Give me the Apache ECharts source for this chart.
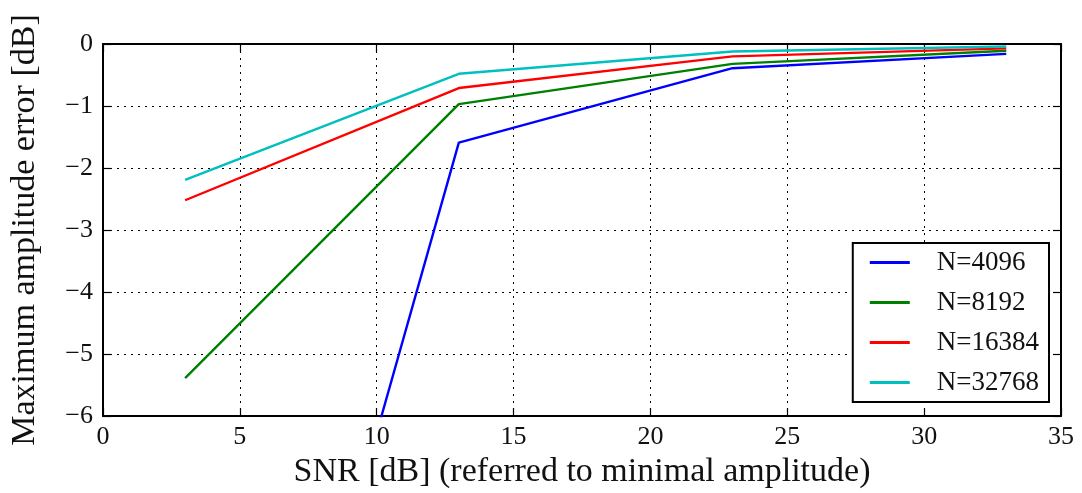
<!DOCTYPE html>
<html>
<head>
<meta charset="utf-8">
<script src="https://cdn.jsdelivr.net/npm/echarts@6/dist/echarts.min.js"></script>
<style>
  html, body { margin: 0; padding: 0; background: #fff; }
  #chart { width: 1082px; height: 493px; }
</style>
</head>
<body>
<div id="chart"></div>
<script>
// SNR points (dB)
const snr = [3, 13, 23, 33];
const legendNames = ['N=4096', 'N=8192', 'N=16384', 'N=32768'];
// max amplitude error (dB)
const errN4096 = [-17.2, -1.59, -0.39, -0.16];
const errN8192 = [-5.39, -0.97, -0.32, -0.11];
const errN16384 = [-2.52, -0.71, -0.2, -0.07];
const errN32768 = [-2.19, -0.48, -0.12, -0.04];
const colors = ['#0000ff', '#008000', '#ff0000', '#00bfbf'];

const fontFamily = '"Liberation Serif", "DejaVu Serif", serif';
const minus = v => String(v).replace('-', '\u2212');

const myChart = echarts.init(document.getElementById('chart'));

const gridLine = {
    show: true,
    lineStyle: { color: '#000', width: 1, type: [2, 5] }
};
const tick = { show: true, inside: true, length: 8, lineStyle: { color: '#000', width: 1.2 } };
const frame = { show: true, onZero: false, lineStyle: { color: '#000', width: 2 } };

const mkSeries = (name, vals, i) => ({
    name,
    type: 'line',
    data: snr.map((x, k) => [x, vals[k]]),
    showSymbol: false,
    symbol: 'none',
    clip: true,
    lineStyle: { color: colors[i], width: 2.4 },
    itemStyle: { color: colors[i] },
    emphasis: { disabled: true },
    z: 3
});

const option = {
    animation: false,
    grid: { left: 103, right: 21, top: 44, bottom: 77, outerBoundsMode: 'none', containLabel: false },
    legend: {
        orient: 'vertical',
        right: 33,
        top: 243,
        data: legendNames,
        itemWidth: 40,
        itemHeight: 20,
        itemGap: 13,
        padding: [6, 10, 6, 17],
        borderColor: '#000',
        borderWidth: 2,
        backgroundColor: '#fff',
        icon: 'path://M0,8.6 L40,8.6 L40,11.4 L0,11.4 Z',
        textStyle: { fontFamily, fontSize: 27, color: '#111', padding: [0, 0, 0, 22] }
    },
    xAxis: [{
        type: 'value',
        min: 0, max: 35, interval: 5,
        name: 'SNR [dB] (referred to minimal amplitude)',
        nameLocation: 'middle',
        nameGap: 38,
        nameTextStyle: { fontFamily, fontSize: 34, color: '#111' },
        axisLine: frame,
        axisTick: tick,
        axisLabel: { fontFamily, fontSize: 26, color: '#111', margin: 8 },
        splitLine: gridLine
    }, {
        type: 'value',
        position: 'top',
        min: 0, max: 35, interval: 5,
        axisLine: frame,
        axisTick: tick,
        axisLabel: { show: false },
        splitLine: { show: false }
    }],
    yAxis: [{
        type: 'value',
        min: -6, max: 0, interval: 1,
        name: 'Maximum amplitude error [dB]',
        nameLocation: 'middle',
        nameGap: 61,
        nameTextStyle: { fontFamily, fontSize: 34, color: '#111' },
        axisLine: frame,
        axisTick: tick,
        axisLabel: { fontFamily, fontSize: 26, color: '#111', margin: 10, formatter: minus },
        splitLine: gridLine
    }, {
        type: 'value',
        position: 'right',
        min: -6, max: 0, interval: 1,
        axisLine: frame,
        axisTick: tick,
        axisLabel: { show: false },
        splitLine: { show: false }
    }],
    series: [
        mkSeries(legendNames[0], errN4096, 0),
        mkSeries(legendNames[1], errN8192, 1),
        mkSeries(legendNames[2], errN16384, 2),
        mkSeries(legendNames[3], errN32768, 3)
    ]
};

myChart.setOption(option);
</script>
</body>
</html>
